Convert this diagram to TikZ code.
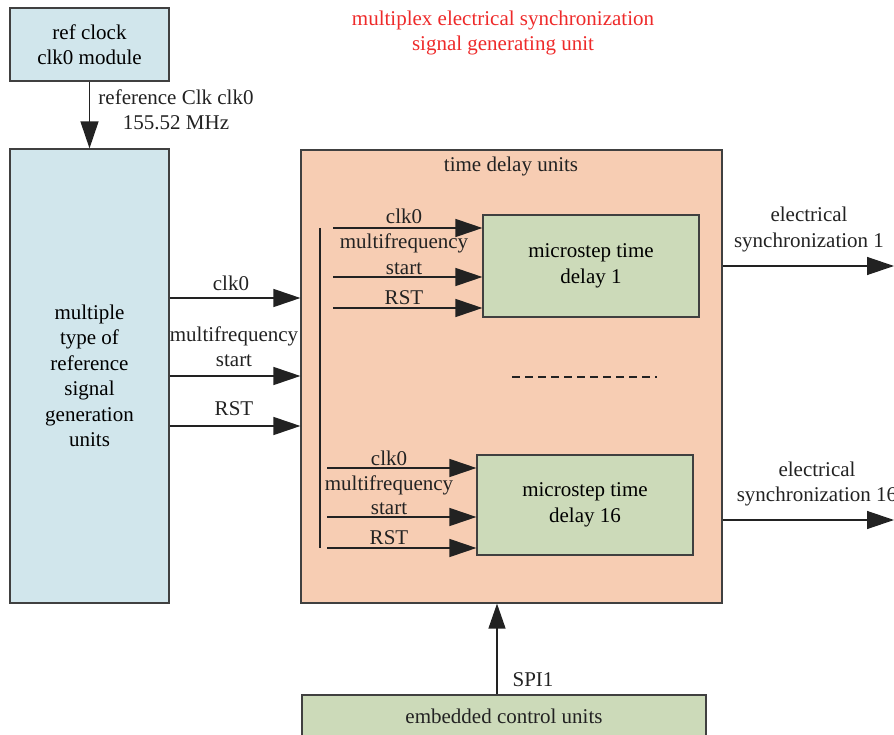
\documentclass[tikz,border=0pt]{standalone}
\usepackage{fontspec}
\setmainfont{Liberation Serif}
\usetikzlibrary{arrows.meta}
\definecolor{boxblue}{HTML}{D1E6EC}
\definecolor{boxorange}{HTML}{F7CDB3}
\definecolor{boxgreen}{HTML}{CCDAB9}
\definecolor{edge}{HTML}{404040}
\definecolor{ink}{HTML}{222222}
\definecolor{titlered}{HTML}{EE2A2A}
\begin{document}
\begin{tikzpicture}[x=1pt,y=-1pt,
  font=\fontsize{21}{25.5}\selectfont,
  box/.style={draw=edge, line width=1.2pt, inner sep=0pt, align=center},
  txt/.style={inner sep=0pt, align=center, text=ink},
  sig/.style={draw=ink, line width=1.3pt, -{Triangle[length=27pt,width=18pt]}}]
\useasboundingbox (0,0) rectangle (894,735);

% title
\node[txt, text=titlered] (title) at (503,33) {multiplex electrical synchronization\\signal generating unit};

% reference clock and generator
\node[box, fill=boxblue, minimum width=159, minimum height=73] (ref) at (89.5,44.5) {ref clock\\clk0 module};
\node[box, fill=boxblue, minimum width=159, minimum height=454] (gen) at (89.5,376)
  {multiple\\type of\\reference\\signal\\generation\\units};
\draw[sig] (ref.south) -- (gen.north);
\node[txt] (reflbl) at (176,110) {reference Clk clk0\\155.52 MHz};

% time delay units container
\node[box, fill=boxorange, minimum width=421, minimum height=453] (tdu) at (511.5,376.5) {};
\node[txt] (tdutitle) at (511,166) {time delay units};

% microstep delay blocks
\node[box, fill=boxgreen, minimum width=216, minimum height=102] (m1) at (591,266) {microstep time\\delay 1};
\node[box, fill=boxgreen, minimum width=216, minimum height=100] (m16) at (585,505) {microstep time\\delay 16};

% signals from generator into the delay units
\draw[sig] (gen.east |- 0,298) -- (tdu.west |- 0,298);
\draw[sig] (gen.east |- 0,376) -- (tdu.west |- 0,376);
\draw[sig] (gen.east |- 0,426) -- (tdu.west |- 0,426);
\node[txt] (lclk) at (231,283) {clk0};
\node[txt] (lmf) at (234,346.5) {multifrequency\\start};
\node[txt] (lrst) at (234,409) {RST};

% internal distribution bus
\coordinate (bustop) at (320,228);
\coordinate (busbot) at (320,548);
\draw[draw=ink, line width=1.3pt] (bustop) -- (busbot);

% inputs of delay 1
\coordinate (a1) at (333,228);
\coordinate (a2) at (333,277);
\coordinate (a3) at (333,308);
\draw[sig] (a1) -- (m1.west |- a1);
\draw[sig] (a2) -- (m1.west |- a2);
\draw[sig] (a3) -- (m1.west |- a3);
\node[txt] (uclk) at (404,216) {clk0};
\node[txt] (umf) at (404,243) {multifrequency};
\node[txt] (ust) at (404,269) {start};
\node[txt] (urst) at (404,298) {RST};

% inputs of delay 16
\coordinate (b1) at (327,468);
\coordinate (b2) at (327,517);
\coordinate (b3) at (327,548);
\draw[sig] (b1) -- (m16.west |- b1);
\draw[sig] (b2) -- (m16.west |- b2);
\draw[sig] (b3) -- (m16.west |- b3);
\node[txt] (dclk) at (389,458) {clk0};
\node[txt] (dmf) at (389,485) {multifrequency};
\node[txt] (dst) at (389,509) {start};
\node[txt] (drst) at (389,538) {RST};

% ellipsis between channels
\draw[draw=ink, line width=1.2pt, dash pattern=on 8pt off 5pt] (512,377) -- (657,377);

% outputs
\coordinate (o1) at (894,266);
\coordinate (o16) at (894,520);
\draw[sig] (tdu.east |- o1) -- (o1);
\draw[sig] (tdu.east |- o16) -- (o16);
\node[txt] (out1) at (809,229.5) {electrical\\synchronization 1};
\node[txt] (out16) at (817,484) {electrical\\synchronization 16};

% embedded controller
\node[box, fill=boxgreen, minimum width=404, minimum height=60] (ecu) at (504,725) {};
\node[txt] (ecutxt) at (504,716) {embedded control units};
\draw[sig, -{Triangle[length=25pt,width=17pt]}] (ecu.north -| 497,0) -- (tdu.south -| 497,0);
\node[txt] (spi) at (533,680) {SPI1};
\end{tikzpicture}
\end{document}
